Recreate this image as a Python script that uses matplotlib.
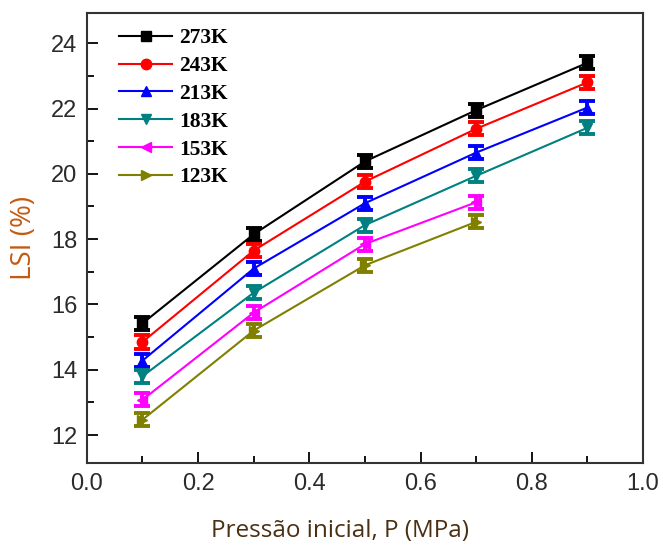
import matplotlib
matplotlib.use('Agg')
import matplotlib.pyplot as plt
import numpy as np
from matplotlib.lines import Line2D
from matplotlib.ticker import MultipleLocator

plt.rcParams['font.family'] = ['Liberation Sans', 'DejaVu Sans']

# initial pressure (MPa)
pressure = [0.1, 0.3, 0.5, 0.7, 0.9]

# LSI (%) for each temperature
lsi_273 = [15.42, 18.15, 20.38, 21.95, 23.40]
lsi_243 = [14.85, 17.65, 19.76, 21.38, 22.80]
lsi_213 = [14.28, 17.10, 19.10, 20.65, 22.03]
lsi_183 = [13.80, 16.36, 18.43, 19.94, 21.41]
lsi_153 = [13.08, 15.75, 17.85, 19.13]
lsi_123 = [12.47, 15.20, 17.20, 18.53]

err = 0.2
labels = ['273K', '243K', '213K', '183K', '153K', '123K']
series = [lsi_273, lsi_243, lsi_213, lsi_183, lsi_153, lsi_123]
colors = ['#000000', '#ff0000', '#0000ff', '#008080', '#ff00ff', '#808000']
markers = ['s', 'o', '^', 'v', '<', '>']

fig = plt.figure(figsize=[6.63, 5.49], dpi=100)
ax = fig.add_axes([0.131, 0.157, 0.839, 0.819])

handles = []
for vals, lab, col, mk in zip(series, labels, colors, markers):
    x = pressure[:len(vals)]
    ax.errorbar(x, vals, yerr=err, color=col, marker=mk, markersize=7.5,
                linewidth=1.5, elinewidth=2.8, capsize=6, capthick=2.8)
    # legend shows line + marker only
    handles.append(Line2D([], [], color=col, marker=mk, markersize=7.5,
                          linewidth=1.5, label=lab))

ax.set_xlim(0.0, 1.0)
ax.set_ylim(11.15, 24.92)
ax.xaxis.set_major_locator(MultipleLocator(0.2))
ax.xaxis.set_minor_locator(MultipleLocator(0.1))
ax.yaxis.set_major_locator(MultipleLocator(2))
ax.yaxis.set_minor_locator(MultipleLocator(1))
ax.set_xticks(np.arange(0, 1.01, 0.2))
ax.set_xticklabels(['0.0', '0.2', '0.4', '0.6', '0.8', '1.0'])

ax.tick_params(which='both', direction='in', top=False, right=False,
               labelsize=17, labelcolor='#2b2b2b', width=1.3)
ax.tick_params(which='major', length=8, pad=7)
ax.tick_params(which='minor', length=5)
for sp in ax.spines.values():
    sp.set_linewidth(1.5)
    sp.set_color('#333333')

ax.set_xlabel('Pressão inicial, P (MPa)', fontsize=17.5, family='Open Sans',
              color='#4a2f12', labelpad=19)
ax.xaxis.set_label_coords(0.455, -0.125)
ax.set_ylabel('LSI (%)', fontsize=20, family='Open Sans', color='#c55a11', labelpad=9)

ax.legend(handles=handles, loc='upper left', frameon=False,
          prop={'family': 'Liberation Serif', 'weight': 'bold', 'size': 15.5},
          handlelength=2.5, handletextpad=0.3, labelspacing=0.36,
          borderaxespad=0.3, bbox_to_anchor=(0.03, 1.0))

fig.savefig('out.png', dpi=100)
